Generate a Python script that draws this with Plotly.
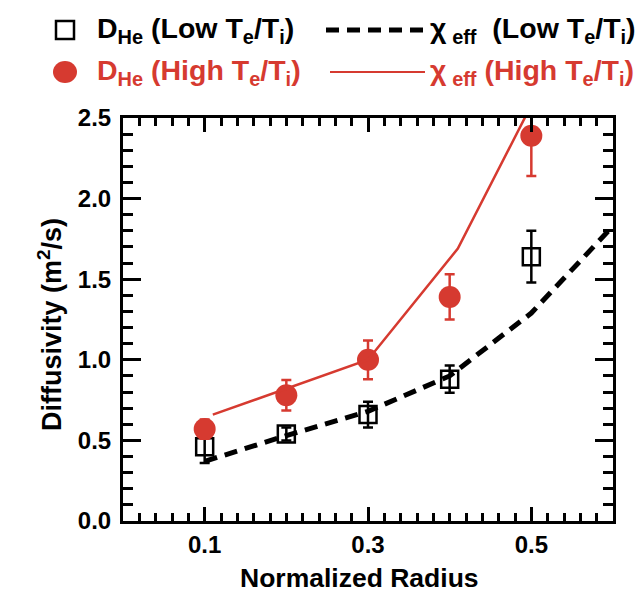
import plotly.graph_objects as go

# Helium diffusivity vs. normalized radius for two T_e/T_i regimes
radius = [0.1, 0.2, 0.3, 0.4, 0.5]

d_he_low = [0.46, 0.54, 0.66, 0.88, 1.64]
d_he_low_err = [0.10, 0.04, 0.08, 0.085, 0.16]

d_he_high = [0.57, 0.78, 1.00, 1.39, 2.39]
d_he_high_err = [0.06, 0.095, 0.12, 0.14, 0.25]

chi_low_r = [0.1, 0.2, 0.3, 0.4, 0.5, 0.6]
chi_low = [0.37, 0.53, 0.68, 0.90, 1.29, 1.83]

chi_high_r = [0.11, 0.2, 0.3, 0.41, 0.5]
chi_high = [0.66, 0.82, 1.00, 1.69, 2.58]

NB = "\u00a0"
TH = "\u2009"
legend_labels = [
    "D<sub>He</sub> (Low T<sub>e</sub>/T<sub>i</sub>)",
    "\u03c7" + TH + "<sub>eff</sub>" + NB + " (Low T<sub>e</sub>/T<sub>i</sub>)",
    "D<sub>He</sub> (High T<sub>e</sub>/T<sub>i</sub>)",
    "\u03c7" + TH + "<sub>eff</sub> (High T<sub>e</sub>/T<sub>i</sub>)",
]
x_title = "Normalized Radius"
y_title = "Diffusivity (m<sup>2</sup>/s)"

RED = "rgb(214,58,48)"
BLACK = "black"
FONT = "Liberation Sans, Arial, sans-serif"

fig = go.Figure()

fig.add_trace(go.Scatter(
    x=radius, y=d_he_low, mode="markers",
    marker=dict(symbol="square-open", size=17, color=BLACK, line=dict(width=2.5)),
    error_y=dict(type="data", array=d_he_low_err, color=BLACK, thickness=2.5, width=5),
    showlegend=False,
))
fig.add_trace(go.Scatter(
    x=radius, y=d_he_high, mode="markers",
    marker=dict(symbol="circle", size=22, color=RED),
    error_y=dict(type="data", array=d_he_high_err, color=RED, thickness=2.5, width=5),
    showlegend=False,
))
fig.add_trace(go.Scatter(
    x=chi_low_r, y=chi_low, mode="lines",
    line=dict(color=BLACK, width=5, dash="13px,8px"),
    showlegend=False,
))
fig.add_trace(go.Scatter(
    x=chi_high_r, y=chi_high, mode="lines",
    line=dict(color=RED, width=2.5),
    showlegend=False,
))

# Hand-built legend and axis titles placed in paper coordinates
W, H = 635, 596
L, R, T, B = 123, 22, 118, 75
pw, ph = W - L - R, H - T - B


def px(xp):
    return (xp - L) / pw


def py(yp):
    return (H - B - yp) / ph


rows = [30, 72]
shapes = [
    dict(type="rect", xref="paper", yref="paper",
         x0=px(56), x1=px(74), y0=py(rows[0] - 9), y1=py(rows[0] + 9),
         line=dict(color=BLACK, width=2.5), fillcolor="rgba(0,0,0,0)"),
    dict(type="circle", xref="paper", yref="paper",
         x0=px(53), x1=px(77), y0=py(rows[1] - 11), y1=py(rows[1] + 11),
         line=dict(color=RED, width=0), fillcolor=RED),
    dict(type="line", xref="paper", yref="paper",
         x0=px(326), x1=px(425), y0=py(rows[0]), y1=py(rows[0]),
         line=dict(color=BLACK, width=5, dash="13px,8px")),
    dict(type="line", xref="paper", yref="paper",
         x0=px(330), x1=px(425), y0=py(rows[1]), y1=py(rows[1]),
         line=dict(color=RED, width=2)),
]

annotations = []
label_pos = [(95, rows[0], BLACK), (428, rows[0], BLACK),
             (95, rows[1], RED), (428, rows[1], RED)]
for text, (lx, ly, col) in zip(legend_labels, label_pos):
    annotations.append(dict(
        text="<b>" + text + "</b>", xref="paper", yref="paper",
        x=px(lx), y=py(ly), xanchor="left", yanchor="middle",
        showarrow=False, font=dict(family=FONT, size=28.5, color=col),
    ))

annotations.append(dict(
    text="<b>" + x_title + "</b>", xref="paper", yref="paper",
    x=px(359), y=py(578), xanchor="center", yanchor="middle",
    showarrow=False, font=dict(family=FONT, size=26.5, color=BLACK),
))
annotations.append(dict(
    text="<b>" + y_title + "</b>", xref="paper", yref="paper",
    x=px(50), y=py(325), xanchor="center", yanchor="middle", textangle=-90,
    showarrow=False, font=dict(family=FONT, size=27, color=BLACK),
))

fig.update_layout(
    width=W, height=H,
    margin=dict(l=L, r=R, t=T, b=B),
    paper_bgcolor="white", plot_bgcolor="white",
    font=dict(family=FONT, color=BLACK, size=22, weight="bold"),
    shapes=shapes, annotations=annotations,
    showlegend=False,
)

fig.update_xaxes(
    range=[0, 0.6], tick0=0.1, dtick=0.2, tickformat=".1f",
    ticks="inside", ticklen=14, tickwidth=3, tickcolor=BLACK,
    showline=True, linewidth=3, linecolor=BLACK, mirror="allticks",
    showgrid=False, zeroline=False, automargin=False,
    tickfont=dict(size=24, family=FONT, weight="bold"),
    minor=dict(dtick=0.02, tick0=0, ticks="inside", ticklen=8, tickwidth=3, tickcolor=BLACK, showgrid=False),
)
fig.update_yaxes(
    range=[0, 2.5], tick0=0, dtick=0.5, tickformat=".1f",
    ticks="inside", ticklen=18, tickwidth=3, tickcolor=BLACK,
    showline=True, linewidth=3, linecolor=BLACK, mirror="allticks",
    showgrid=False, zeroline=False, automargin=False, ticklabelstandoff=4,
    tickfont=dict(size=24, family=FONT, weight="bold"),
    minor=dict(dtick=0.1, tick0=0, ticks="inside", ticklen=10, tickwidth=3, tickcolor=BLACK, showgrid=False),
)

fig.write_html("out.html")
